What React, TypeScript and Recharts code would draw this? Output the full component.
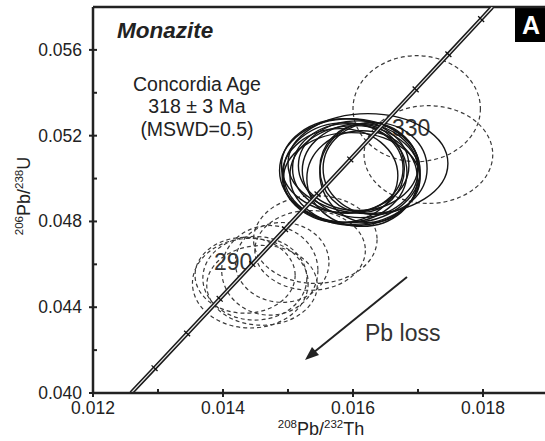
import { ComposedChart, Line, Scatter, XAxis, YAxis, ReferenceArea, ReferenceLine, Customized } from "recharts";

// concordia curve (208Pb/232Th, 206Pb/238U)
const concordia = [
  { x: 0.012587, y: 0.04 },
  { x: 0.012947, y: 0.041157 },
  { x: 0.013448, y: 0.042773 },
  { x: 0.013949, y: 0.044392 },
  { x: 0.014451, y: 0.046013 },
  { x: 0.014954, y: 0.047638 },
  { x: 0.015455, y: 0.049264 },
  { x: 0.015958, y: 0.050893 },
  { x: 0.016461, y: 0.052524 },
  { x: 0.016964, y: 0.054159 },
  { x: 0.017467, y: 0.055795 },
  { x: 0.017971, y: 0.057434 },
  { x: 0.018143, y: 0.058 },
];

// age marks every 10 Ma (260 - 360 Ma)
const ageMarks = concordia.slice(1, -1);

// [centre x, centre y, half-width, half-height]
const solidEllipses: number[][] = [
  [0.01595, 0.05037, 0.00108, 0.00242],
  [0.01623, 0.0507, 0.00123, 0.00233],
  [0.01588, 0.05028, 0.00095, 0.00233],
  [0.01603, 0.05014, 0.001, 0.00233],
  [0.01611, 0.05037, 0.00089, 0.00219],
  [0.01614, 0.05, 0.00085, 0.00223],
  [0.01592, 0.05047, 0.00085, 0.00209],
  [0.01626, 0.05028, 0.00077, 0.00233],
  [0.01608, 0.0506, 0.00092, 0.00209],
  [0.0158, 0.05014, 0.00089, 0.00219],
  [0.01614, 0.05047, 0.00065, 0.00205],
  [0.01598, 0.05, 0.00105, 0.00214],
  [0.01634, 0.05047, 0.0008, 0.00214],
  [0.01588, 0.0506, 0.00098, 0.00219],
];

const dashedEllipses: number[][] = [
  [0.01698, 0.05326, 0.00098, 0.00247],
  [0.01716, 0.05112, 0.00099, 0.00228],
  [0.01542, 0.04716, 0.00095, 0.00205],
  [0.01534, 0.04665, 0.00085, 0.00186],
  [0.01442, 0.04512, 0.00089, 0.00209],
  [0.01449, 0.04535, 0.0008, 0.00195],
  [0.0146, 0.04502, 0.00085, 0.00186],
  [0.01434, 0.04549, 0.00077, 0.00177],
  [0.01472, 0.04572, 0.00074, 0.00209],
  [0.01491, 0.04609, 0.00072, 0.00186],
];

const xTicks = [0.012, 0.013, 0.014, 0.015, 0.016, 0.017, 0.018];
const yTicks = [0.04, 0.042, 0.044, 0.046, 0.048, 0.05, 0.052, 0.054, 0.056];

const FONT = "'Liberation Sans', Arial, sans-serif";
const INK = "#222";

function XTick(props: any) {
  const { x, y, payload } = props;
  const major = Math.round(payload.value * 1000) % 2 === 0;
  return (
    <g>
      <line x1={x} x2={x} y1={y - 4} y2={major ? y + 4 : y} stroke={INK} strokeWidth={2} />
      {major && (
        <text x={x} y={y + 21} textAnchor="middle" fontSize={17.5} fontFamily={FONT} fill={INK}>
          {payload.value.toFixed(3)}
        </text>
      )}
    </g>
  );
}

function YTick(props: any) {
  const { x, y, payload } = props;
  const major = Math.round(payload.value * 1000) % 4 === 0;
  return (
    <g>
      <line x1={major ? x - 4 : x} x2={x + 4} y1={y} y2={y} stroke={INK} strokeWidth={2} />
      {major && (
        <text x={x - 11} y={y + 6} textAnchor="end" fontSize={17.5} fontFamily={FONT} fill={INK}>
          {payload.value.toFixed(3)}
        </text>
      )}
    </g>
  );
}

function ellipseShape(dashed: boolean) {
  return (p: any) => (
    <ellipse
      cx={p.x + p.width / 2}
      cy={p.y + p.height / 2}
      rx={Math.abs(p.width) / 2}
      ry={Math.abs(p.height) / 2}
      fill="none"
      stroke={dashed ? "#3a3a3a" : "#151515"}
      strokeWidth={dashed ? 1.2 : 1.4}
      strokeDasharray={dashed ? "4 3" : undefined}
    />
  );
}

function AgeMark(p: any) {
  const { cx, cy } = p;
  return <line x1={cx - 3} y1={cy - 2.8} x2={cx + 3} y2={cy + 2.8} stroke="#111" strokeWidth={1.3} />;
}

function Annotations() {
  return (
    <g fontFamily={FONT}>
      <text x={117} y={38} fontSize={22.5} fontWeight="bold" fontStyle="italic" fill="#222">
        Monazite
      </text>
      <g fontSize={19.5} fill="#222" textAnchor="middle">
        <text x={197} y={91}>Concordia Age</text>
        <text x={197} y={113}>318 ± 3 Ma</text>
        <text x={197} y={136}>(MSWD=0.5)</text>
      </g>
      <text x={392} y={136} fontSize={23} fill="#333">330</text>
      <text x={214} y={270} fontSize={23} fill="#333">290</text>
      <text x={365} y={341} fontSize={23} fill="#333">Pb loss</text>
      <line x1={407} y1={277} x2={313} y2={353} stroke="#222" strokeWidth={2} />
      <polygon points="305,360 319,355 312,347" fill="#222" />
      <rect x={515} y={7} width={32} height={35} fill="#000" />
      <text x={531} y={34} fontSize={25} fontWeight="bold" fill="#fff" textAnchor="middle">A</text>
      <text x={321} y={435} textAnchor="middle" fill="#222">
        <tspan fontSize={11.5} dy={-7}>208</tspan>
        <tspan fontSize={18} dy={7}>Pb/</tspan>
        <tspan fontSize={11.5} dy={-7}>232</tspan>
        <tspan fontSize={18} dy={7}>Th</tspan>
      </text>
      <text x={30} y={196} textAnchor="middle" fill="#222" transform="rotate(-90 30 196)">
        <tspan fontSize={11.5} dy={-7}>206</tspan>
        <tspan fontSize={18} dy={7}>Pb/</tspan>
        <tspan fontSize={11.5} dy={-7}>238</tspan>
        <tspan fontSize={18} dy={7}>U</tspan>
      </text>
    </g>
  );
}

export default function App() {
  return (
    <div style={{ position: "absolute", left: 0, top: 0, width: 545, height: 441, overflow: "hidden", background: "#fff" }}>
      <ComposedChart width={548} height={441} margin={{ top: 7, right: 0, bottom: 0, left: 0 }}>
        <XAxis
          type="number"
          dataKey="x"
          domain={[0.012, 0.019]}
          ticks={xTicks}
          interval={0}
          height={48}
          tickSize={0}
          tickMargin={0}
          tickLine={false}
          tick={<XTick />}
          axisLine={{ stroke: INK, strokeWidth: 2.5 }}
          allowDataOverflow
        />
        <YAxis
          type="number"
          dataKey="y"
          domain={[0.04, 0.058]}
          ticks={yTicks}
          interval={0}
          width={93}
          tickSize={0}
          tickMargin={0}
          tickLine={false}
          tick={<YTick />}
          axisLine={{ stroke: INK, strokeWidth: 2.5 }}
          allowDataOverflow
        />
        <ReferenceLine y={0.058} stroke={INK} strokeWidth={2.5} ifOverflow="visible" />
        {dashedEllipses.map(([cx, cy, ex, ey], i) => (
          <ReferenceArea
            key={"d" + i}
            x1={cx - ex}
            x2={cx + ex}
            y1={cy - ey}
            y2={cy + ey}
            ifOverflow="visible"
            shape={ellipseShape(true)}
          />
        ))}
        {solidEllipses.map(([cx, cy, ex, ey], i) => (
          <ReferenceArea
            key={"s" + i}
            x1={cx - ex}
            x2={cx + ex}
            y1={cy - ey}
            y2={cy + ey}
            ifOverflow="visible"
            shape={ellipseShape(false)}
          />
        ))}
        <Line data={concordia} dataKey="y" stroke="#1a1a1a" strokeWidth={4.2} dot={false} isAnimationActive={false} />
        <Line data={concordia} dataKey="y" stroke="#e8e8e8" strokeWidth={1.2} dot={false} isAnimationActive={false} />
        <Scatter data={ageMarks} dataKey="y" shape={<AgeMark />} isAnimationActive={false} />
        <Customized component={Annotations} />
      </ComposedChart>
    </div>
  );
}
